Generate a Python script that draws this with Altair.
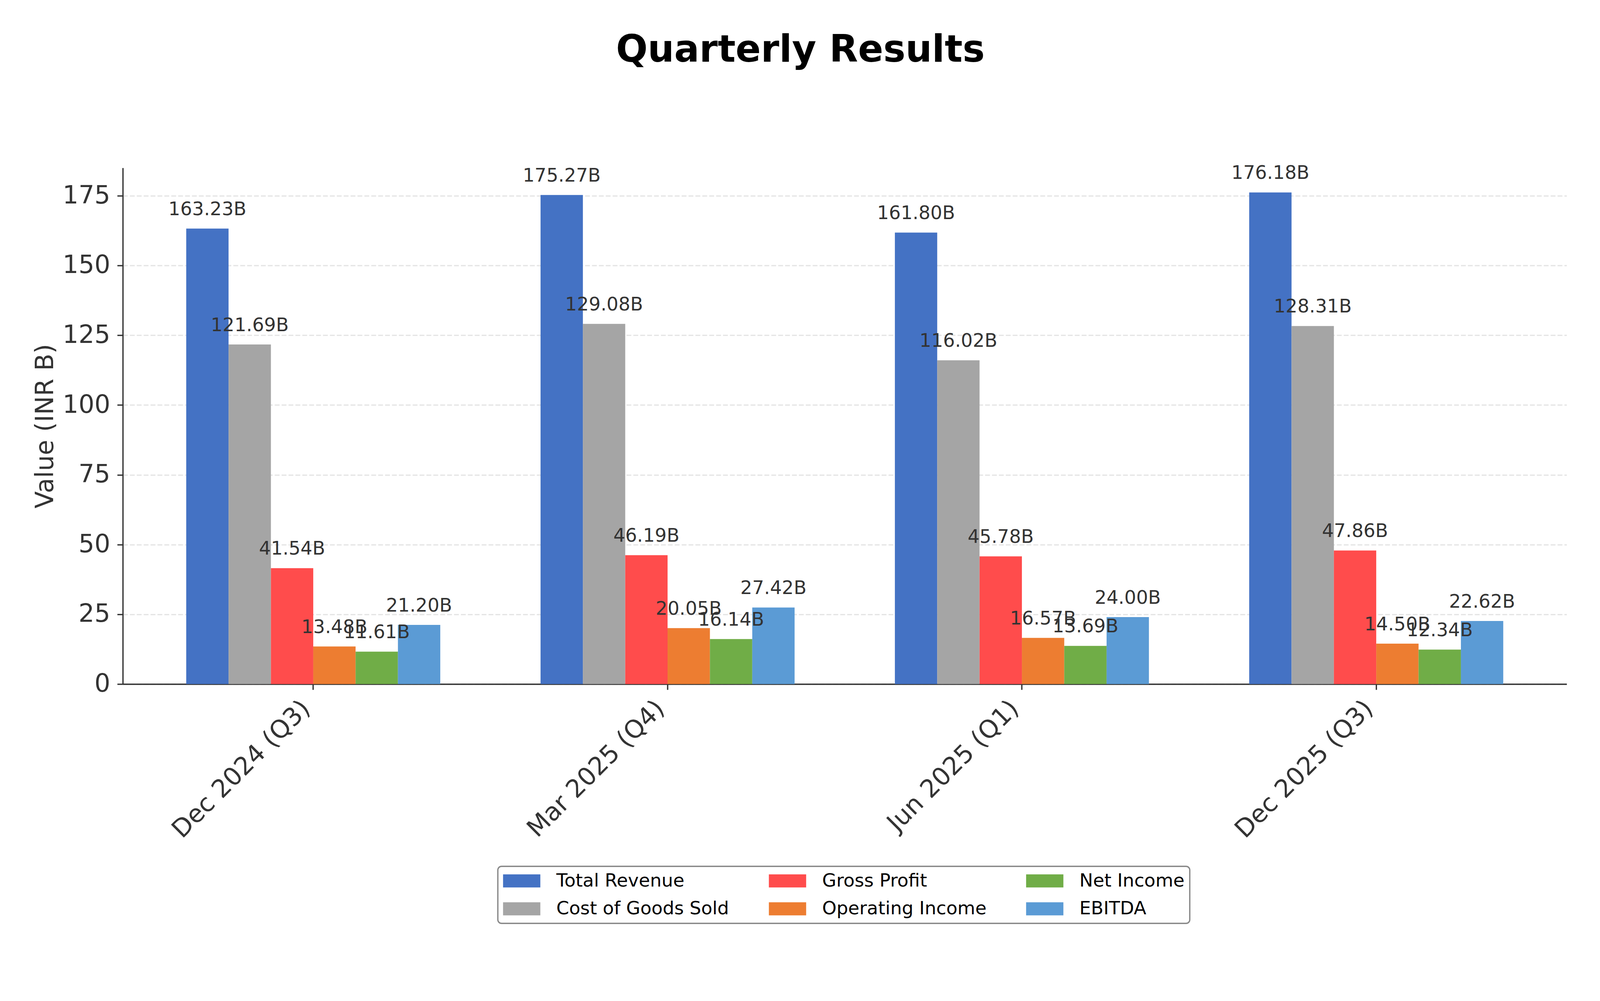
import altair as alt
import pandas as pd

quarters = ["Dec 2024 (Q3)", "Mar 2025 (Q4)", "Jun 2025 (Q1)", "Dec 2025 (Q3)"]
series = ["Total Revenue", "Cost of Goods Sold", "Gross Profit",
          "Operating Income", "Net Income", "EBITDA"]
colors = ["#4472C4", "#A5A5A5", "#FF4C4C", "#ED7D31", "#70AD47", "#5B9BD5"]

total_revenue = [163.23, 175.27, 161.80, 176.18]
cogs = [121.69, 129.08, 116.02, 128.31]
gross_profit = [41.54, 46.19, 45.78, 47.86]
operating_income = [13.48, 20.05, 16.57, 14.50]
net_income = [11.61, 16.14, 13.69, 12.34]
ebitda = [21.20, 27.42, 24.00, 22.62]

values = [total_revenue, cogs, gross_profit, operating_income, net_income, ebitda]
rows = []
for s, vals in zip(series, values):
    for q, v in zip(quarters, vals):
        rows.append({"quarter": q, "series": s, "value": v})
df = pd.DataFrame(rows)

FONT = "DejaVu Sans"

base = alt.Chart(df).encode(
    x=alt.X("quarter:N", sort=quarters,
            scale=alt.Scale(paddingInner=0.283, paddingOuter=0.179),
            axis=alt.Axis(title=None, labelAngle=-45, labelAlign="right",
                          labelBaseline="middle", labelPadding=40, labelOffset=-19,
                          labelLimit=3000,
                          labelFontSize=67, labelFont=FONT, labelColor="#333333",
                          tickSize=15, tickWidth=3.5, tickColor="#333333",
                          domainColor="#333333", domainWidth=3.5, grid=False)),
    xOffset=alt.XOffset("series:N", sort=series,
                        scale=alt.Scale(domain=series, paddingInner=0, paddingOuter=0)),
)

bars = base.mark_bar().encode(
    y=alt.Y("value:Q", scale=alt.Scale(domain=[0, 185], nice=False, zero=True),
            axis=alt.Axis(title="Value (INR B)", values=[0, 25, 50, 75, 100, 125, 150, 175],
                          labelFontSize=67, labelFont=FONT, labelColor="#333333",
                          labelPadding=19, tickSize=15, tickWidth=3.5, tickColor="#333333",
                          domainColor="#333333", domainWidth=3.5,
                          titleFontSize=67, titleFont=FONT, titleColor="#333333",
                          titleFontWeight="normal", titlePadding=12,
                          grid=True, gridColor="#cccccc", gridOpacity=0.5,
                          gridWidth=3.4, gridDash=[13, 5.5])),
    color=alt.Color("series:N",
                    scale=alt.Scale(domain=series, range=colors),
                    legend=alt.Legend(title=None, orient="none", legendX=1006, legendY=1874,
                                      columns=3, symbolType="M-2,-0.7H2V0.7H-2Z",
                                      symbolSize=2500, symbolOffset=25, labelOffset=68,
                                      labelFontSize=49, labelFont=FONT, labelColor="black",
                                      labelLimit=2000, columnPadding=106, rowPadding=25,
                                      padding=14, strokeColor="#888888", fillColor="white",
                                      cornerRadius=10, symbolStrokeWidth=0,
                                      symbolOpacity=1)),
)

labels = base.mark_text(baseline="alphabetic", dy=-36, fontSize=50, font=FONT,
                        color="#333333").encode(
    y=alt.Y("value:Q"),
    text=alt.Text("label:N"),
).transform_calculate(label="format(datum.value, '.2f') + 'B'")

chart = alt.layer(bars, labels).properties(
    width=3873,
    height=1385,
    autosize=alt.AutoSizeParams(type="none"),
    padding={"left": 321, "top": 381, "right": 81, "bottom": 781},
    title=alt.TitleParams("Quarterly Results", fontSize=100, fontWeight="bold",
                          font=FONT, color="black", anchor="middle", dx=-119,
                          baseline="alphabetic", offset=175),
).configure_view(stroke=None).configure_axis(zindex=1).configure_legend(strokeWidth=3.5)

chart.save("out.html", embed_options={"renderer": "svg", "actions": False})
